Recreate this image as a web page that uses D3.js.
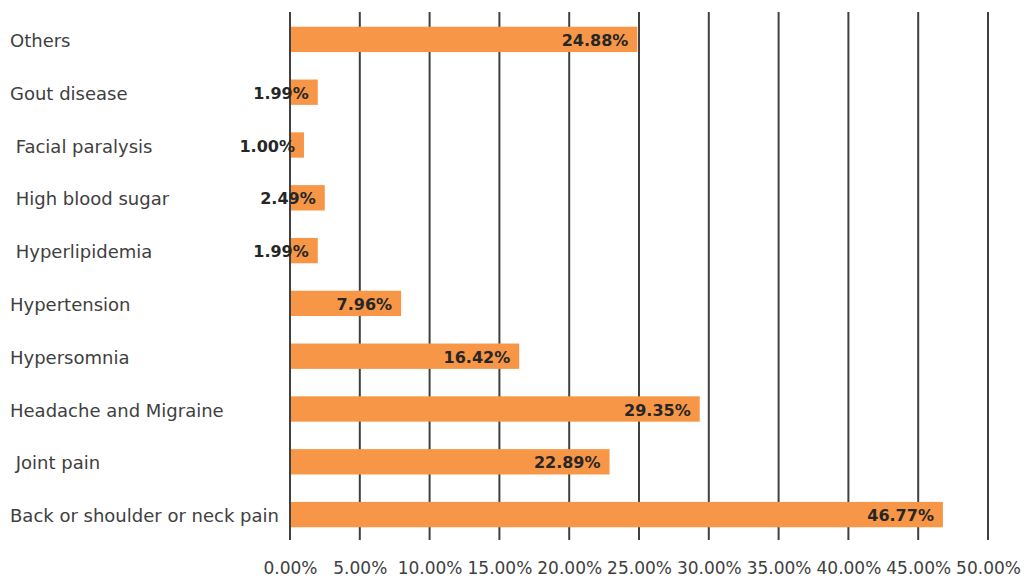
<!DOCTYPE html>
<html>
<head>
<meta charset="utf-8">
<script src="https://cdn.jsdelivr.net/npm/d3@7"></script>
<style>
  body { margin: 0; background: #ffffff; }
  #chart-container { width: 1024px; height: 578px; }
</style>
</head>
<body>
<div id="chart-container"></div>
<script>
// categories top to bottom, as in the picture
const categories = [
  "Others",
  "Gout disease",
  " Facial paralysis",
  " High blood sugar",
  " Hyperlipidemia",
  "Hypertension",
  "Hypersomnia",
  "Headache and Migraine",
  " Joint pain",
  "Back or shoulder or neck pain",
];
const values = [24.88, 1.99, 1.0, 2.49, 1.99, 7.96, 16.42, 29.35, 22.89, 46.77];
const tickValues = [0, 5, 10, 15, 20, 25, 30, 35, 40, 45, 50];

const width = 1024;
const height = 578;
const margin = { top: 12, right: 36, bottom: 38, left: 290 };

function drawChart() {
  d3.select("#chart-container").select("svg").remove();

  const svg = d3
    .select("#chart-container")
    .append("svg")
    .attr("width", width)
    .attr("height", height);

  const x = d3
    .scaleLinear()
    .domain([0, 50])
    .range([margin.left, width - margin.right]);

  const y = d3
    .scaleBand()
    .domain(categories)
    .range([margin.top, height - margin.bottom])
    .paddingInner(0.52)
    .paddingOuter(0.26);

  const font = "'DejaVu Sans', sans-serif";

  // vertical grid lines
  svg
    .append("g")
    .selectAll("line")
    .data(tickValues)
    .enter()
    .append("line")
    .attr("x1", (d) => x(d))
    .attr("x2", (d) => x(d))
    .attr("y1", margin.top)
    .attr("y2", height - margin.bottom)
    .style("stroke", "#404040")
    .style("stroke-width", 2);

  // bars
  svg
    .append("g")
    .selectAll("rect")
    .data(values)
    .enter()
    .append("rect")
    .attr("x", x(0) + 1)
    .attr("y", (d, i) => y(categories[i]) + 1)
    .attr("width", (d) => x(d) - x(0) - 1)
    .attr("height", y.bandwidth())
    .style("fill", "#f79646");

  // value labels
  svg
    .append("g")
    .selectAll("text")
    .data(values)
    .enter()
    .append("text")
    .attr("x", (d) => x(d) - 9)
    .attr("y", (d, i) => y(categories[i]) + y.bandwidth() / 2 + 2)
    .attr("text-anchor", "end")
    .attr("dominant-baseline", "central")
    .style("font-family", font)
    .style("font-weight", "bold")
    .style("font-size", "16px")
    .style("fill", "#262626")
    .text((d) => d.toFixed(2) + "%");

  // category labels
  svg
    .append("g")
    .selectAll("text")
    .data(categories)
    .enter()
    .append("text")
    .attr("x", 10)
    .attr("y", (d) => y(d) + y.bandwidth() / 2 + 2)
    .attr("dominant-baseline", "central")
    .attr("xml:space", "preserve")
    .style("white-space", "pre")
    .style("font-family", font)
    .style("font-size", "18px")
    .style("fill", "#404040")
    .text((d) => d);

  // x axis tick labels
  const xAxis = d3
    .axisBottom(x)
    .tickValues(tickValues)
    .tickSize(0)
    .tickPadding(0)
    .tickFormat((d) => d.toFixed(2) + "%");

  const axisG = svg
    .append("g")
    .attr("transform", `translate(0, ${height - 10})`)
    .call(xAxis);
  axisG.select(".domain").remove();
  axisG
    .selectAll("text")
    .attr("dy", "0.35em")
    .style("font-family", font)
    .style("font-size", "17px")
    .style("fill", "#404040");
}

drawChart();
</script>
</body>
</html>
